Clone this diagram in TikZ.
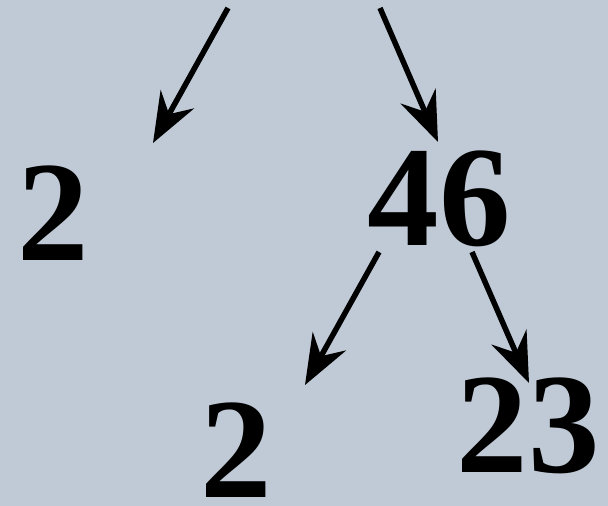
\documentclass[tikz,border=0pt]{standalone}
\usepackage{fontspec}
\setmainfont{Liberation Serif}
\usetikzlibrary{arrows.meta,calc}
\definecolor{slatebg}{RGB}{191,202,214}

\begin{document}
\begin{tikzpicture}[
        x=1pt, y=-1pt,
        num/.style={font=\fontsize{143}{143}\selectfont\bfseries, anchor=base, inner sep=0pt},
        arr/.style={-{Stealth[length=50pt, width=38pt, inset=17pt]}, line width=5.5pt},
    ]
        % Background
        \fill[slatebg] (0, 0) rectangle (608, 506);
        \useasboundingbox (0, 0) rectangle (608, 506);

        % Numbers
        \node[num] (left2) at (53, 260) {2};
        \node[num] (n46) at (439, 245) {46};
        \node[num] (low2) at (236, 497) {2};
        \node[num] (n23) at (528, 472) {23};

        % Free ends
        \coordinate (upL) at (228, 8);
        \coordinate (upR) at (380, 8);
        \coordinate (tipL) at (153, 143);
        \coordinate (tipR) at (438, 142);
        \coordinate (tip2) at (305, 385);
        \coordinate (tip23) at (529, 383);

        % Arrows
        \draw[arr] (upL) -- (tipL);
        \draw[arr] (upR) -- (tipR);
        \draw[arr] ($(n46.base)+(-60, 7)$) -- (tip2);
        \draw[arr] ($(n46.base)+(33, 7)$) -- (tip23);
    \end{tikzpicture}
\end{document}
